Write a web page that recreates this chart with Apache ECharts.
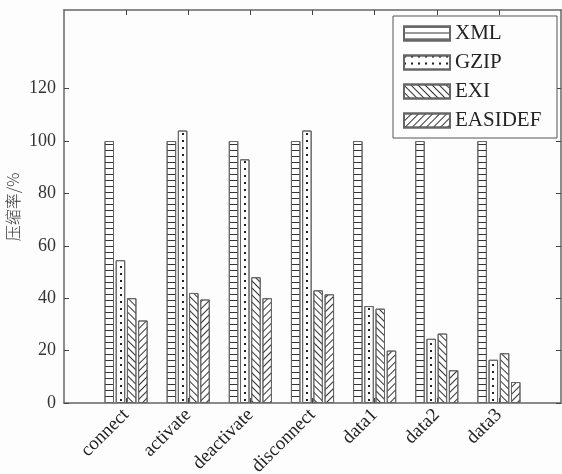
<!DOCTYPE html>
<html>
<head>
<meta charset="utf-8">
<script src="https://cdn.jsdelivr.net/npm/echarts@6/dist/echarts.min.js"></script>
<style>
  html, body { margin: 0; padding: 0; background: #fdfdfd; }
  #chart { width: 562px; height: 474px; }
</style>
</head>
<body>
<div id="chart"></div>
<script>
// Compression rate (%) per message type and encoding
const categories = ['connect', 'activate', 'deactivate', 'disconnect', 'data1', 'data2', 'data3'];
const seriesNames = ['XML', 'GZIP', 'EXI', 'EASIDEF'];
const xmlRate = [100, 100, 100, 100, 100, 100, 100];
const gzipRate = [54.5, 104, 93, 104, 37, 24.5, 16.5];
const exiRate = [40, 42, 48, 43, 36, 26.5, 19];
const easidefRate = [31.5, 39.5, 40, 41.5, 20, 12.5, 8];
const yTickValues = [0, 20, 40, 60, 80, 100, 120];
const frameTickValues = [1, 2, 3, 4, 5, 6, 7];

const serif = "'Liberation Serif', 'DejaVu Serif', serif";
const lineColor = '#333';
const edgeColor = '#666';

// hatch fills
const xmlDecal = { symbol: 'rect', symbolSize: 1, dashArrayX: [1, 0], dashArrayY: [1, 5], color: lineColor };
const gzipDecal = { symbol: 'rect', symbolSize: 1, dashArrayX: [[0, 27, 2, 2]], dashArrayY: [2, 5], color: '#222' };
const gzipLegendDecal = { symbol: 'rect', symbolSize: 1, dashArrayX: [2, 5], dashArrayY: [2, 5], color: '#222' };
const exiDecal = { symbol: 'rect', symbolSize: 1, dashArrayX: [1, 0], dashArrayY: [1, 4], rotation: Math.PI / 4, color: lineColor };
const easidefDecal = { symbol: 'rect', symbolSize: 1, dashArrayX: [1, 0], dashArrayY: [1, 4], rotation: -Math.PI / 4, color: lineColor };

const chart = echarts.init(document.getElementById('chart'), null, { renderer: 'canvas' });

function barSeries(name, data, decal) {
  return {
    name: name,
    type: 'bar',
    xAxisIndex: 0,
    yAxisIndex: 0,
    data: data,
    barWidth: 9.5,
    barGap: '18%',
    itemStyle: { color: '#fff', borderColor: edgeColor, borderWidth: 1, decal: decal },
    emphasis: { disabled: true }
  };
}

const frameAxis = {
  type: 'value', min: 0, max: 8, gridIndex: 1,
  axisLine: { show: true, onZero: false, lineStyle: { color: edgeColor, width: 1.5 } },
  axisTick: { show: true, inside: true, length: 5, customValues: frameTickValues, lineStyle: { color: '#444' } },
  axisLabel: { show: false },
  splitLine: { show: false }
};

const option = {
  animation: false,
  backgroundColor: '#fdfdfd',
  grid: [
    { left: 95, right: 32, top: 10, bottom: 71, containLabel: false, outerBoundsMode: 'none' },
    { left: 64, right: 1, top: 10, bottom: 71, containLabel: false, outerBoundsMode: 'none' }
  ],
  xAxis: [
    {
      type: 'category', gridIndex: 0, data: categories,
      axisLine: { show: false }, axisTick: { show: false },
      axisLabel: { rotate: 45, margin: 9, fontFamily: serif, fontSize: 19, color: '#222' }
    },
    Object.assign({}, frameAxis, { position: 'bottom' }),
    Object.assign({}, frameAxis, { position: 'top' })
  ],
  yAxis: [
    { type: 'value', gridIndex: 0, min: 0, max: 150, show: false },
    {
      type: 'value', gridIndex: 1, min: 0, max: 150, position: 'left',
      axisLine: { show: true, onZero: false, lineStyle: { color: edgeColor, width: 1.5 } },
      axisTick: { show: true, inside: true, length: 5, customValues: yTickValues, lineStyle: { color: '#444' } },
      axisLabel: { customValues: yTickValues, fontFamily: serif, fontSize: 18, color: '#333', margin: 8 },
      splitLine: { show: false }
    },
    {
      type: 'value', gridIndex: 1, min: 0, max: 150, position: 'right',
      axisLine: { show: true, onZero: false, lineStyle: { color: edgeColor, width: 1.5 } },
      axisTick: { show: true, inside: true, length: 5, customValues: yTickValues, lineStyle: { color: '#444' } },
      axisLabel: { show: false },
      splitLine: { show: false }
    }
  ],
  legend: {
    orient: 'vertical',
    left: 393,
    top: 16,
    icon: 'rect',
    itemWidth: 46,
    itemHeight: 14,
    itemGap: 8,
    padding: [7, 10, 7, 10],
    borderColor: '#555',
    borderWidth: 1,
    backgroundColor: '#fdfdfd',
    selectedMode: false,
    textStyle: { fontFamily: serif, fontSize: 21, color: '#222', lineHeight: 14, width: 92 },
    data: [
      { name: 'XML' },
      { name: 'GZIP', itemStyle: { decal: gzipLegendDecal } },
      { name: 'EXI' },
      { name: 'EASIDEF' }
    ]
  },
  graphic: [
    {
      type: 'text',
      x: 13, y: 207,
      rotation: Math.PI / 2,
      style: {
        text: '压缩率/%',
        fontFamily: 'Noto Sans CJK SC',
        fontSize: 16,
        fontWeight: 300,
        fill: '#333',
        align: 'center',
        verticalAlign: 'middle'
      }
    }
  ],
  series: [
    barSeries(seriesNames[0], xmlRate, xmlDecal),
    barSeries(seriesNames[1], gzipRate, gzipDecal),
    barSeries(seriesNames[2], exiRate, exiDecal),
    barSeries(seriesNames[3], easidefRate, easidefDecal)
  ]
};

chart.setOption(option);
</script>
</body>
</html>
